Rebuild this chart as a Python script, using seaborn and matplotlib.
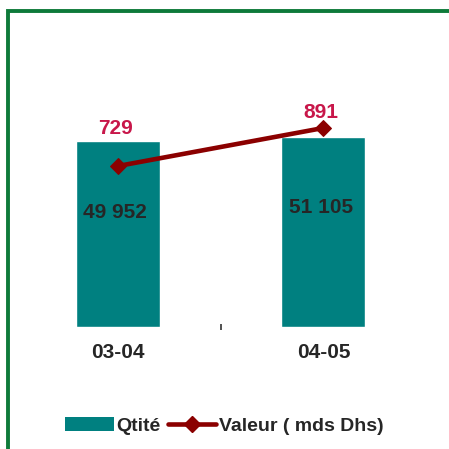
import matplotlib
matplotlib.use("Agg")
import matplotlib.pyplot as plt
import seaborn as sns
from matplotlib.patches import Patch, Rectangle
from matplotlib.lines import Line2D

# Data
periods = ["03-04", "04-05"]
qtite = [49952, 51105]
valeur = [729, 891]
qtite_labels = ["49 952", "51 105"]
valeur_labels = ["729", "891"]

teal = "#008080"
dark_red = "#8B0000"
label_red = "#C8174A"
text_dark = "#262626"

sns.set_style("white")
plt.rcParams['font.family'] = ['Liberation Sans', 'DejaVu Sans']
plt.rcParams['font.weight'] = 'bold'

fig = plt.figure(figsize=(4.49, 4.49), dpi=100)
W, H = 449, 449

# Green frame (left and top edges visible)
fig.patches.append(Rectangle((7.5 / W, -0.1), 1.2, 1.1 - 11 / H,
                             transform=fig.transFigure, fill=False,
                             edgecolor="#0E7A3A", linewidth=2.8))

# Axes placement in pixels
left, right, top, bottom = 15.5, 426, 40, 326.7
ax = fig.add_axes([left / W, 1 - bottom / H, (right - left) / W, (bottom - top) / H])

sns.barplot(x=periods, y=qtite, color=teal, saturation=1, width=0.41, ax=ax)
ax.set_xlim(-0.5, 1.5)
ax.set_ylim(0, 77236)
ax.set_xlabel("")
ax.set_ylabel("")
ax.set_yticks([])
for s in ax.spines.values():
    s.set_visible(False)
ax.tick_params(axis='x', which='major', bottom=False, length=0, pad=12,
               labelsize=15, labelcolor=text_dark)
ax.set_xticks([0.5], minor=True)
ax.tick_params(axis='x', which='minor', bottom=True, length=5, width=1.2,
               direction='inout', color='#333333')
for lbl in ax.get_xticklabels():
    lbl.set_fontweight('bold')

for i, (v, t) in enumerate(zip(qtite, qtite_labels)):
    ax.annotate(t, (i, v), xytext=(-2, -51), textcoords='offset points',
                ha='center', va='center', fontsize=15, fontweight='bold', color=text_dark)

ax2 = ax.twinx()
sns.lineplot(x=[0, 1], y=valeur, color=dark_red, linewidth=3.3, marker='D',
             markersize=8.5, markeredgecolor=dark_red, ax=ax2)
ax2.set_ylim(44, 1266)
ax2.set_yticks([])
ax2.set_ylabel("")
for s in ax2.spines.values():
    s.set_visible(False)

val_offsets = [27, 11]
for i, (v, t) in enumerate(zip(valeur, valeur_labels)):
    ax2.annotate(t, (i, v), xytext=(-2, val_offsets[i]), textcoords='offset points',
                 ha='center', va='center', fontsize=15, fontweight='bold', color=label_red)

handles = [Patch(facecolor=teal, edgecolor='none', label="Qtité"),
           Line2D([0], [0], color=dark_red, linewidth=3.3, marker='D', markersize=8.5,
                  label="Valeur ( mds Dhs)")]
leg = fig.legend(handles=handles, loc='center', bbox_to_anchor=(0.5, 23 / H), ncol=2,
                 frameon=False, fontsize=14, handlelength=2.5, handletextpad=0.15,
                 columnspacing=0.35, borderpad=0)
for t in leg.get_texts():
    t.set_color(text_dark)
    t.set_fontweight('bold')

fig.savefig("out.png", dpi=100)
